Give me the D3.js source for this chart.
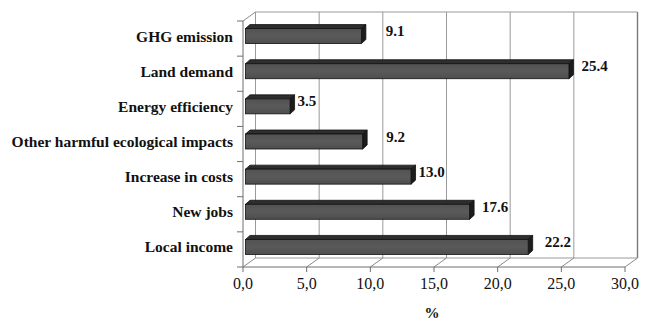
<!DOCTYPE html>
<html>
<head>
<meta charset="utf-8">
<script src="https://cdn.jsdelivr.net/npm/d3@7/dist/d3.min.js"></script>
<style>
  html, body { margin: 0; padding: 0; background: #fff; }
  svg { display: block; }
  text { font-family: "Liberation Serif", "DejaVu Serif", serif; fill: #111; }
</style>
</head>
<body>
<svg id="chart" width="648" height="320"></svg>
<script>
// Categories (top to bottom) and their shares in percent
const categories = [
  "GHG emission",
  "Land demand",
  "Energy efficiency",
  "Other harmful ecological impacts",
  "Increase in costs",
  "New jobs",
  "Local income"
];
const values = [9.1, 25.4, 3.5, 9.2, 13.0, 17.6, 22.2];
const valueLabels = ["9.1", "25.4", "3.5", "9.2", "13.0", "17.6", "22.2"];
const xTicks = [0, 5, 10, 15, 20, 25, 30];
const xTickLabels = ["0,0", "5,0", "10,0", "15,0", "20,0", "25,0", "30,0"];
const axisTitle = "%";

// Layout: gap between a bar's end and its value label
const labelGap = [20, 8, 3, 19, 3, 8, 12];

const svg = d3.select("#chart");

// Front plane of the 3-D box and its depth offset
const x = d3.scaleLinear().domain([0, 30]).range([243, 625]);
const y = d3.scaleBand().domain(categories).range([21, 267]).paddingInner(0).paddingOuter(0);
const DX = 12.5, DY = -9;          // wall depth
const BOX = 2.5, BOY = -2.5;       // bar front offset inside the box
const BDX = 4.5, BDY = -4;         // bar depth
const BAR_H = 15;

const yTop = y.range()[0], yBot = y.range()[1];
const gridColor = "#9a9a9a";

const walls = svg.append("g");
// back wall gridlines
walls.selectAll("line.grid").data(xTicks).join("line")
  .attr("x1", d => x(d) + DX).attr("x2", d => x(d) + DX)
  .attr("y1", yTop + DY).attr("y2", yBot + DY)
  .attr("stroke", d => d === 30 ? "#7a7a7a" : gridColor)
  .attr("stroke-width", d => d === 30 ? 1.4 : 1);
// back wall top edge
walls.append("line")
  .attr("x1", x(0) + DX).attr("x2", x(30) + DX)
  .attr("y1", yTop + DY).attr("y2", yTop + DY)
  .attr("stroke", gridColor);
// floor back edge
walls.append("line")
  .attr("x1", x(0) + DX).attr("x2", x(30) + DX)
  .attr("y1", yBot + DY).attr("y2", yBot + DY)
  .attr("stroke", gridColor);
// floor depth lines from each tick
walls.selectAll("line.depth").data(xTicks).join("line")
  .attr("x1", d => x(d)).attr("x2", d => x(d) + DX)
  .attr("y1", yBot).attr("y2", yBot + DY)
  .attr("stroke", "#8a8a8a");
// side wall top depth line
walls.append("line")
  .attr("x1", x(0)).attr("x2", x(0) + DX)
  .attr("y1", yTop).attr("y2", yTop + DY)
  .attr("stroke", "#8a8a8a");

// front axes
const axisColor = "#6e6e6e";
svg.append("line")
  .attr("x1", x(0)).attr("x2", x(0)).attr("y1", yTop).attr("y2", yBot)
  .attr("stroke", axisColor);
svg.append("line")
  .attr("x1", x(0)).attr("x2", x(30)).attr("y1", yBot).attr("y2", yBot)
  .attr("stroke", axisColor);
// x ticks
svg.selectAll("line.xt").data(xTicks).join("line")
  .attr("x1", d => x(d)).attr("x2", d => x(d))
  .attr("y1", yBot).attr("y2", yBot + 5)
  .attr("stroke", axisColor);
// y ticks at category boundaries
const yBounds = categories.map(c => y(c)).concat([yBot]);
svg.selectAll("line.yt").data(yBounds).join("line")
  .attr("x1", x(0) - 6).attr("x2", x(0))
  .attr("y1", d => d).attr("y2", d => d)
  .attr("stroke", axisColor);

// tick labels
svg.selectAll("text.xl").data(xTicks).join("text")
  .attr("x", d => x(d)).attr("y", 283)
  .attr("text-anchor", "middle").attr("dominant-baseline", "central")
  .style("font-size", "16px")
  .text((d, i) => xTickLabels[i]);

svg.append("text")
  .attr("x", 432).attr("y", 313)
  .attr("text-anchor", "middle").attr("dominant-baseline", "central")
  .style("font-size", "15px").style("font-weight", "bold")
  .text(axisTitle);

// category labels
svg.selectAll("text.cat").data(categories).join("text")
  .attr("x", 233)
  .attr("y", d => y(d) + y.bandwidth() / 2 + BOY)
  .attr("text-anchor", "end").attr("dominant-baseline", "central")
  .style("font-size", "15.5px").style("font-weight", "bold")
  .text(d => d);

// gradient for bar fronts
const defs = svg.append("defs");
const grad = defs.append("linearGradient").attr("id", "barFront")
  .attr("x1", 0).attr("x2", 0).attr("y1", 0).attr("y2", 1);
grad.append("stop").attr("offset", "0%").attr("stop-color", "#525252");
grad.append("stop").attr("offset", "50%").attr("stop-color", "#5a5a5a");
grad.append("stop").attr("offset", "100%").attr("stop-color", "#4e4e4e");

// 3-D bars
const bars = svg.selectAll("g.bar").data(categories.map((c, i) => ({ c, v: values[i], i })))
  .join("g").attr("class", "bar");

bars.each(function (d) {
  const g = d3.select(this);
  const x0 = x(0) + BOX;
  const x1 = x(d.v) + BOX;
  const yc = y(d.c) + y.bandwidth() / 2 + BOY;
  const t = yc - BAR_H / 2, b = yc + BAR_H / 2;
  // top face
  g.append("path")
    .attr("d", `M${x0},${t} L${x0 + BDX},${t + BDY} L${x1 + BDX},${t + BDY} L${x1},${t} Z`)
    .attr("fill", "#2e2e2e").attr("stroke", "#111").attr("stroke-width", 0.8)
    .attr("stroke-linejoin", "round");
  // right face
  g.append("path")
    .attr("d", `M${x1},${t} L${x1 + BDX},${t + BDY} L${x1 + BDX},${b + BDY} L${x1},${b} Z`)
    .attr("fill", "#1c1c1c").attr("stroke", "#111").attr("stroke-width", 0.8)
    .attr("stroke-linejoin", "round");
  // front face
  g.append("rect")
    .attr("x", x0).attr("y", t).attr("width", x1 - x0).attr("height", BAR_H)
    .attr("fill", "url(#barFront)").attr("stroke", "#111").attr("stroke-width", 0.8);
  // value label
  g.append("text")
    .attr("x", x1 + BDX + labelGap[d.i])
    .attr("y", yc - 5)
    .attr("dominant-baseline", "central")
    .style("font-size", "15px").style("font-weight", "bold")
    .text(valueLabels[d.i]);
});
</script>
</body>
</html>
